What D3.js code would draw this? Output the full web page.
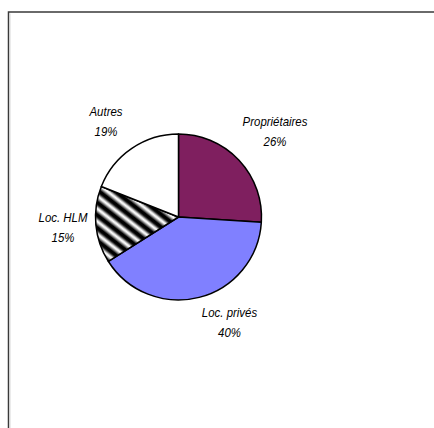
<!DOCTYPE html>
<html>
<head>
<meta charset="utf-8">
<script src="https://cdn.jsdelivr.net/npm/d3@7"></script>
<style>
  html, body { margin: 0; padding: 0; background: #fff; }
  svg { display: block; }
</style>
</head>
<body>
<div id="chart"></div>
<script>
// Data
const categories = ['Propriétaires', 'Loc. privés', 'Loc. HLM', 'Autres'];
const shares = [26, 40, 15, 19];
const labelText = ['26%', '40%', '15%', '19%'];

const width = 434;
const height = 428;

const svg = d3.select('#chart')
  .append('svg')
  .attr('width', width)
  .attr('height', height);

// Frame (only top and left edges are visible)
svg.append('path')
  .attr('d', 'M8.5,428 L8.5,12 L434,12')
  .attr('fill', 'none')
  .attr('stroke', '#3a3a3a')
  .attr('stroke-width', 1.5);
svg.append('line')
  .attr('x1', 10).attr('y1', 13.5).attr('x2', 10).attr('y2', 428)
  .attr('stroke', '#d8d8d8').attr('stroke-width', 1);

// Striped fill for Loc. HLM
const defs = svg.append('defs');
const grad = defs.append('linearGradient')
  .attr('id', 'stripe-grad')
  .attr('x1', '0%').attr('x2', '100%').attr('y1', '0%').attr('y2', '0%');
[[0, '#000'], [0.25, '#000'], [0.6, '#fff'], [0.7, '#fff'], [1, '#000']].forEach(([o, c]) => {
  grad.append('stop').attr('offset', o).attr('stop-color', c);
});
const pattern = defs.append('pattern')
  .attr('id', 'stripes')
  .attr('patternUnits', 'userSpaceOnUse')
  .attr('width', 10)
  .attr('height', 40)
  .attr('patternTransform', 'rotate(-52)');
pattern.append('rect')
  .attr('width', 10).attr('height', 40)
  .attr('fill', 'url(#stripe-grad)');

const fills = ['#7f1f5f', '#8080ff', 'url(#stripes)', '#ffffff'];

const cx = 178.5, cy = 217, r = 83;

const pie = d3.pie().sort(null).value(d => d);
const arc = d3.arc().innerRadius(0).outerRadius(r);
const arcs = pie(shares);

const g = svg.append('g').attr('transform', `translate(${cx},${cy})`);
g.selectAll('path')
  .data(arcs)
  .join('path')
  .attr('d', arc)
  .attr('fill', (d, i) => fills[i])
  .attr('stroke', '#000')
  .attr('stroke-width', 1.5)
  .attr('stroke-linejoin', 'round');

// Labels: category on first line, percentage below (narrow italic look)
const labelPos = [[275, 126], [229.5, 317], [63, 222], [106, 116]];
const labels = svg.append('g')
  .attr('font-family', '"Liberation Sans Narrow", "Arial Narrow", "Liberation Sans", Arial, sans-serif')
  .attr('font-style', 'italic')
  .attr('font-size', 13)
  .attr('fill', '#000')
  .attr('text-anchor', 'middle');

categories.forEach((c, i) => {
  const [x, y] = labelPos[i];
  labels.append('text').attr('transform', `translate(${x},${y}) scale(0.88,1)`).text(c);
  labels.append('text').attr('transform', `translate(${x},${y + 20}) scale(0.88,1)`).text(labelText[i]);
});
</script>
</body>
</html>
